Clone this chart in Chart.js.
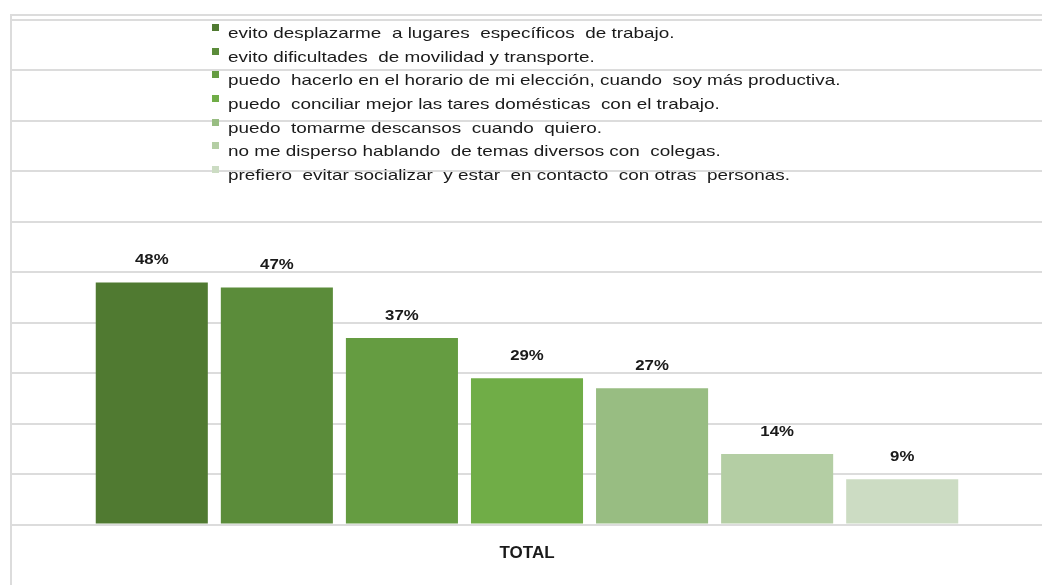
<!DOCTYPE html>
<html>
<head>
<meta charset="utf-8">
<script src="https://cdn.jsdelivr.net/npm/chart.js@4"></script>
<style>
    body { margin: 0; background: #fff; font-family: "Liberation Sans", Arial, sans-serif; }
    #frame { position: absolute; left: 10px; top: 14px; width: 1040px; height: 580px;
             border-left: 2px solid #dcdcdc; border-top: 2px solid #dcdcdc; }
    #wrap { position: absolute; left: 12px; top: 16px; width: 1030px; height: 569px; }
    #legend { position: absolute; left: 212px; top: 21px; }
    .leg-item { height: 23.7px; position: relative; }
    .leg-box { position: absolute; left: 0; top: 3px; width: 7px; height: 7px; }
    .leg-text { position: absolute; left: 16px; top: 0; white-space: pre; font-size: 15px;
                color: #1a1a1a; transform: scaleX(1.26); transform-origin: left top; line-height: 24px; }
</style>
</head>
<body>
<div id="frame"></div>
<div id="wrap"><canvas id="chart"></canvas></div>
<div id="legend"></div>
<script>
// Datos del gráfico
const categorias = ['TOTAL'];
const respuestas = [
    'evito desplazarme  a lugares  específicos  de trabajo.',
    'evito dificultades  de movilidad y transporte.',
    'puedo  hacerlo en el horario de mi elección, cuando  soy más productiva.',
    'puedo  conciliar mejor las tares domésticas  con el trabajo.',
    'puedo  tomarme descansos  cuando  quiero.',
    'no me disperso hablando  de temas diversos con  colegas.',
    'prefiero  evitar socializar  y estar  en contacto  con otras  personas.'
];
const porcentajes = [48, 47, 37, 29, 27, 14, 9];

// Tonos de verde, del más oscuro al más claro
const COLORES = ['#507a31', '#5b8c3a', '#659c41', '#70ad47', '#98bd82', '#b4cea4', '#ccdcc3'];

// Etiquetas de porcentaje encima de cada barra
const etiquetasPlugin = {
    id: 'etiquetas',
    afterDatasetsDraw(chart) {
        const ctx = chart.ctx;
        ctx.save();
        ctx.font = 'bold 14px "Liberation Sans", Arial, sans-serif';
        ctx.fillStyle = '#1a1a1a';
        ctx.textAlign = 'center';
        ctx.textBaseline = 'middle';
        chart.data.datasets.forEach((ds, i) => {
            const meta = chart.getDatasetMeta(i);
            meta.data.forEach((bar, j) => {
                ctx.save();
                ctx.translate(bar.x, bar.y - 22);
                ctx.scale(1.2, 1);
                ctx.fillText(ds.data[j] + '%', 0, 0);
                ctx.restore();
            });
        });
        ctx.restore();
    }
};

const datasets = respuestas.map((r, i) => ({
    label: r,
    data: [porcentajes[i]],
    backgroundColor: COLORES[i],
    borderWidth: 0
}));

new Chart(document.getElementById('chart'), {
    type: 'bar',
    data: { labels: categorias, datasets: datasets },
    options: {
        responsive: true,
        maintainAspectRatio: false,
        animation: false,
        categoryPercentage: 0.85,
        barPercentage: 0.896,
        layout: { padding: { top: 4, left: 0, right: 0, bottom: 10 } },
        plugins: { legend: { display: false }, tooltip: { enabled: false } },
        scales: {
            y: {
                min: 0, max: 100,
                ticks: { display: false, stepSize: 10 },
                grid: { color: '#dcdcdc', lineWidth: 2, drawTicks: false },
                border: { display: false }
            },
            x: {
                grid: { display: false },
                border: { display: false },
                ticks: { color: '#1a1a1a', padding: 11, font: { size: 17, weight: 'bold', family: '"Liberation Sans", Arial, sans-serif' } }
            }
        }
    },
    plugins: [etiquetasPlugin]
});

// Leyenda en columna
const leyenda = document.getElementById('legend');
respuestas.forEach((r, i) => {
    const item = document.createElement('div');
    item.className = 'leg-item';
    item.innerHTML = `<span class="leg-box" style="background:${COLORES[i]}"></span><span class="leg-text">${r}</span>`;
    leyenda.appendChild(item);
});
</script>
</body>
</html>
